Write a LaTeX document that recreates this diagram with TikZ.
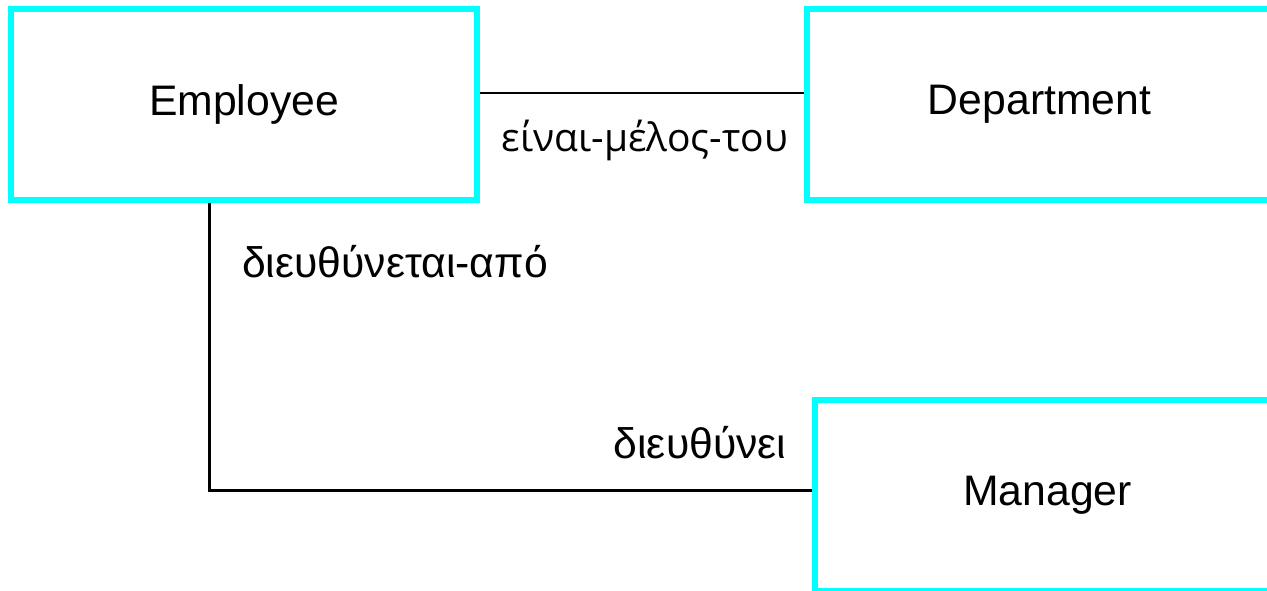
\documentclass[tikz,border=0pt]{standalone}
\usepackage{fontspec}
\setmainfont{Liberation Sans}
\newfontfamily\labelfont{Open Sans}
\usetikzlibrary{positioning}
\definecolor{entitycyan}{RGB}{0,255,255}

\tikzset{
  entity/.style = {draw = entitycyan, line width = 6pt, rectangle,
    minimum width = 466pt, minimum height = 191pt, inner sep = 0pt},
  rel/.style = {draw = black, line width = 2.5pt},
  rellabel/.style = {inner sep = 0pt, text = black}
}

\begin{document}
\begin{tikzpicture}[x = 1pt, y = -1pt, node distance = 795.5pt, on grid,
    font = \fontsize{42.7}{50}\selectfont]
  \useasboundingbox (0,0) rectangle (1267,590);
  \clip (0,0) rectangle (1267,590);
  \node[entity] (emp) at (244,104.5) {Employee};
  \node[entity] [right=of emp] (dept) {Department};
  \node[entity] [below=390.5pt of dept, xshift=8pt] (mgr) {Manager};
  \draw[rel] ([yshift=11.5pt]emp.east) -- ([yshift=11.5pt]dept.west)
    node[rellabel, midway, yshift=-47pt, xshift=3pt, font = \labelfont\fontsize{39}{46}\selectfont] (memberof) {είναι-μέλος-του};
  \draw[rel] ([xshift=-34.5pt]emp.south) |- ([yshift=4.5pt]mgr.west);
  \node[rellabel] (managedby) at (395,262) {διευθύνεται-από};
  \node[rellabel] (manages) at (700,443) {διευθύνει};
\end{tikzpicture}
\end{document}
